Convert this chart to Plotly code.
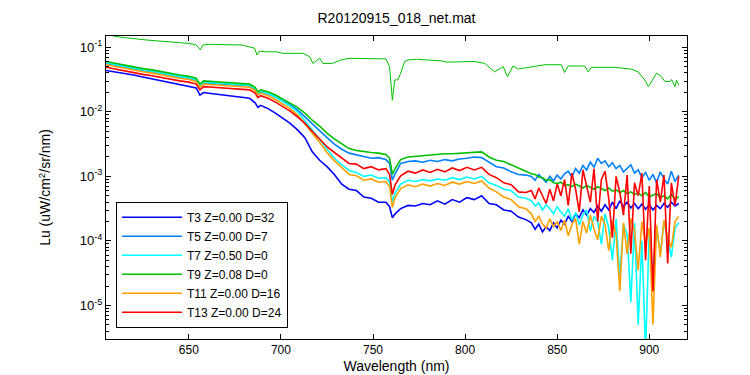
import numpy as np
import plotly.graph_objects as go

# Wavelength grid (nm) shared by the six station spectra
wavelength = [605, 610, 615, 620, 625, 630, 635, 640, 645, 650, 654, 656, 658, 663, 668, 673, 678, 683,
              686, 687.5, 689, 693, 697, 701, 705, 709, 713, 717, 721, 725, 729,
              733, 737, 741, 745, 749, 753, 757, 759, 760.5, 762, 765, 769, 773, 777, 781, 785, 789, 793,
              797, 801, 805, 809, 813, 817, 821, 825, 829, 833,
              836, 838, 840, 842, 844, 846, 848, 850, 852, 854, 856, 858, 860, 862, 864, 866, 868, 870,
              872, 874, 876, 878, 880, 882, 884, 886, 888, 890, 892, 894, 896, 898, 900, 902, 904, 906,
              908, 910, 912, 914, 916]

# log10 of Lu (uW/cm^2/sr/nm)
t3_log = [-1.36, -1.38, -1.41, -1.43, -1.46, -1.49, -1.52, -1.55, -1.58, -1.60,
          -1.63, -1.74, -1.70, -1.72, -1.74, -1.75, -1.77, -1.79, -1.86, -1.93,
          -1.90, -1.95, -2.02, -2.10, -2.18, -2.28, -2.40, -2.62, -2.75, -2.85,
          -2.97,
          -3.12, -3.20, -3.22, -3.32, -3.34, -3.40, -3.40, -3.47, -3.64, -3.58,
          -3.50, -3.45, -3.46, -3.42, -3.44, -3.38, -3.43, -3.36, -3.40, -3.33,
          -3.36, -3.30, -3.42, -3.44, -3.52, -3.54, -3.63, -3.67,
          -3.72, -3.82, -3.74, -3.86, -3.78, -3.84, -3.72, -3.80, -3.68, -3.74,
          -3.62, -3.70, -3.58, -3.64, -3.52, -3.60, -3.50, -3.56, -3.46, -3.54,
          -3.44, -3.52, -3.40, -3.50, -3.38, -3.47, -3.40, -3.49, -3.42, -3.50,
          -3.43, -3.51, -3.44, -3.52, -3.45, -3.50, -3.42, -3.48, -3.40, -3.46,
          -3.42]

t5_log = [-1.25, -1.28, -1.31, -1.33, -1.36, -1.38, -1.41, -1.43, -1.46, -1.48,
          -1.51, -1.60, -1.55, -1.56, -1.57, -1.58, -1.59, -1.60, -1.65, -1.72,
          -1.69, -1.72, -1.77, -1.83, -1.89, -1.97, -2.08, -2.19, -2.29, -2.40,
          -2.50,
          -2.58, -2.64, -2.67, -2.70, -2.72, -2.71, -2.74, -2.80, -3.06, -2.96,
          -2.80, -2.77, -2.76, -2.78, -2.75, -2.77, -2.74, -2.76, -2.73, -2.72,
          -2.70, -2.71, -2.78, -2.85, -2.87, -2.93, -2.97, -2.98,
          -3.00, -3.06, -2.97, -3.03, -3.09, -3.00, -3.07, -2.98, -3.04, -2.96,
          -2.92, -3.01, -2.88, -2.95, -2.83, -2.90, -2.78, -2.86, -2.72, -2.80,
          -2.76, -2.85, -2.79, -2.88, -2.83, -2.93, -2.87, -2.82, -2.95, -2.90,
          -3.02, -2.94, -3.06, -2.97, -3.10, -2.93, -3.04, -3.12, -2.92, -3.08,
          -2.98]

t7_log = [-1.24, -1.27, -1.30, -1.32, -1.35, -1.37, -1.40, -1.42, -1.45, -1.47,
          -1.50, -1.59, -1.54, -1.55, -1.56, -1.57, -1.58, -1.59, -1.64, -1.71,
          -1.68, -1.71, -1.77, -1.84, -1.91, -2.00, -2.14, -2.28, -2.42, -2.58,
          -2.72,
          -2.82, -2.91, -2.94, -3.00, -2.98, -3.03, -3.02, -3.09, -3.40, -3.26,
          -3.12, -3.06, -3.08, -3.05, -3.07, -3.04, -3.06, -3.02, -3.05, -3.01,
          -3.04, -3.00, -3.10, -3.14, -3.20, -3.22, -3.32, -3.34,
          -3.38, -3.46, -3.41, -3.52, -3.44, -3.50, -3.58, -3.47, -3.55, -3.62,
          -3.50, -3.68, -3.56, -3.75, -3.60, -3.52, -3.85, -3.62, -3.70, -4.05,
          -3.58, -3.80, -4.30, -3.66, -4.55, -3.75, -3.90, -4.95, -3.72, -5.30,
          -4.00, -5.70, -3.85, -4.50, -3.78, -4.20, -3.70, -3.95, -4.25, -3.80,
          -3.72]

t9_log = [-1.22, -1.25, -1.28, -1.30, -1.33, -1.35, -1.38, -1.40, -1.43, -1.45,
          -1.48, -1.57, -1.52, -1.53, -1.54, -1.55, -1.56, -1.57, -1.62, -1.69,
          -1.66, -1.69, -1.74, -1.80, -1.86, -1.93, -2.02, -2.13, -2.22, -2.33,
          -2.42,
          -2.50, -2.57, -2.60, -2.62, -2.63, -2.64, -2.66, -2.72, -2.97, -2.88,
          -2.74, -2.70, -2.69, -2.67, -2.67, -2.66, -2.65, -2.65, -2.64, -2.63,
          -2.62, -2.62, -2.70, -2.75, -2.77, -2.82, -2.88, -2.92,
          -2.96, -2.97, -3.01, -3.02, -3.06, -3.05, -3.10, -3.11, -3.09, -3.14,
          -3.13, -3.16, -3.12, -3.15, -3.18, -3.14, -3.17, -3.20, -3.16, -3.19,
          -3.22, -3.18, -3.23, -3.21, -3.25, -3.22, -3.27, -3.24, -3.28, -3.26,
          -3.30, -3.25, -3.32, -3.29, -3.27, -3.33, -3.30, -3.35, -3.28, -3.36,
          -3.31]

t11_log = [-1.27, -1.30, -1.33, -1.35, -1.38, -1.40, -1.43, -1.45, -1.48, -1.50,
           -1.53, -1.62, -1.57, -1.58, -1.59, -1.60, -1.61, -1.62, -1.67, -1.74,
           -1.71, -1.75, -1.81, -1.88, -1.95, -2.05, -2.18, -2.33, -2.47, -2.63,
           -2.76,
           -2.86, -2.97, -2.99, -3.06, -3.04, -3.09, -3.08, -3.16, -3.48, -3.33,
           -3.19, -3.13, -3.16, -3.12, -3.15, -3.11, -3.14, -3.09, -3.12, -3.08,
           -3.11, -3.07, -3.18, -3.24, -3.32, -3.36, -3.47, -3.50,
           -3.58, -3.70, -3.62, -3.74, -3.80, -3.66, -3.78, -3.70, -3.84, -3.68,
           -3.92, -3.75, -3.65, -4.05, -3.70, -3.88, -3.60, -3.82, -3.98, -3.62,
           -3.75, -4.15, -3.68, -3.90, -4.78, -3.72, -4.20, -3.65, -3.85, -4.45,
           -3.70, -4.05, -3.80, -5.30, -3.75, -4.25, -3.68, -3.95, -4.10, -3.70,
           -3.62]

t13_log = [-1.31, -1.34, -1.37, -1.39, -1.42, -1.44, -1.47, -1.49, -1.52, -1.54,
           -1.57, -1.66, -1.61, -1.62, -1.63, -1.64, -1.65, -1.66, -1.71, -1.78,
           -1.75, -1.79, -1.85, -1.92, -1.99, -2.08, -2.18, -2.30, -2.42, -2.54,
           -2.63,
           -2.72, -2.80, -2.81, -2.88, -2.85, -2.90, -2.88, -2.97, -3.28, -3.13,
           -2.99, -2.92, -2.95, -2.90, -2.94, -2.89, -2.93, -2.87, -2.91, -2.86,
           -2.90, -2.86, -2.97, -3.02, -3.10, -3.13, -3.24, -3.25,
           -3.22, -3.35, -3.18, -3.30, -3.42, -3.20, -3.38, -3.12, -3.30, -3.05,
           -3.45, -2.95, -3.20, -3.55, -2.90, -3.15, -3.40, -2.88, -3.70, -3.05,
           -2.92, -3.35, -3.95, -3.00, -3.25, -3.60, -2.98, -4.20, -3.10, -3.30,
           -2.95, -4.30, -3.15, -4.78, -3.05, -3.40, -2.98, -4.35, -3.10, -3.45,
           -3.00]

# Upper reference spectrum (no legend entry)
top_wavelength = [605, 612, 627, 645, 650, 654, 656.2, 657.6, 661, 679, 685.7, 687, 688.4, 692, 697.5,
                  701, 712, 715.6, 717.4, 721, 722.8, 728, 732, 737, 757, 759, 760.5, 761.8, 763.6,
                  765, 767.2, 769, 773.5, 787, 790, 805, 810.7, 816, 820.7, 823, 826, 829, 836,
                  843.3, 852.3, 854, 856, 865, 866.8, 868.6, 881.4, 890.4, 894, 897.7, 899.5, 901.3,
                  904, 906.7, 908.5, 911.3, 912.1, 914, 914.8, 916]
top_log = [-0.80, -0.84, -0.887, -0.93, -0.94, -0.965, -1.04, -0.965, -0.954, -0.965, -1.015, -1.12,
           -1.06, -1.07, -1.07, -1.093, -1.093, -1.146, -1.25, -1.17, -1.25, -1.25, -1.20, -1.17,
           -1.18, -1.30, -1.82, -1.51, -1.50, -1.40, -1.22, -1.197, -1.186, -1.21, -1.23, -1.22,
           -1.25, -1.38, -1.30, -1.455, -1.29, -1.336, -1.30, -1.27, -1.27, -1.39, -1.29, -1.29,
           -1.38, -1.31, -1.31, -1.34, -1.38, -1.51, -1.61, -1.53, -1.40, -1.455, -1.53, -1.53,
           -1.50, -1.61, -1.51, -1.585]

names = ["T3 Z=0.00 D=32", "T5 Z=0.00 D=7", "T7 Z=0.50 D=0",
         "T9 Z=0.08 D=0", "T11 Z=0.00 D=16", "T13 Z=0.00 D=24"]
colors = ["#0000FF", "#0080FF", "#00FFFF", "#00C000", "#FFA000", "#FF0000"]
series = [t3_log, t5_log, t7_log, t9_log, t11_log, t13_log]

for s in series:
    assert len(s) == len(wavelength), len(s)
assert len(top_log) == len(top_wavelength), (len(top_log), len(top_wavelength))

FONT = "Liberation Sans, Arial, sans-serif"

fig = go.Figure()
for name, col, s in zip(names, colors, series):
    fig.add_trace(go.Scatter(x=wavelength, y=np.power(10.0, s), mode="lines", name=name,
                             line=dict(color=col, width=1.6)))
fig.add_trace(go.Scatter(x=top_wavelength, y=np.power(10.0, top_log), mode="lines",
                         showlegend=False, line=dict(color="#00C000", width=1)))

decades = [-5, -4, -3, -2, -1]
minor_vals = [k * 10.0 ** d for d in [-6, -5, -4, -3, -2, -1] for k in range(2, 10)]

fig.update_layout(
    width=750, height=375,
    margin=dict(l=98, r=71, t=28, b=44),
    paper_bgcolor="white", plot_bgcolor="white",
    font=dict(family=FONT, size=12, color="black"),
    title=dict(text="R20120915_018_net.mat", x=0.518, xanchor="center", y=0.985, yanchor="top",
               font=dict(size=14)),
    xaxis=dict(range=[605, 920.5], tickmode="array", tickvals=[650, 700, 750, 800, 850, 900],
               ticks="inside", ticklen=5, tickcolor="black", showline=True, linecolor="black",
               linewidth=1, mirror="ticks", showgrid=False, zeroline=False,
               title=dict(text="Wavelength (nm)", font=dict(size=14), standoff=4)),
    yaxis=dict(type="log", range=[-5.52, -0.825], tickmode="array",
               tickvals=[10.0 ** d for d in decades],
               ticktext=["10<sup>%d</sup>" % d for d in decades],
               ticks="inside", ticklen=5, tickcolor="black", showline=True, linecolor="black",
               linewidth=1, mirror="ticks", showgrid=False, zeroline=False,
               tickfont=dict(size=13),
               minor=dict(tickmode="array", tickvals=minor_vals, ticks="inside", ticklen=3,
                          tickcolor="black", showgrid=False),
               title=dict(text="Lu (uW/cm<sup>2</sup>/sr/nm)", font=dict(size=14), standoff=25)),
    legend=dict(x=0.0172, y=0.453, xanchor="left", yanchor="top", bgcolor="white",
                bordercolor="black", borderwidth=1, font=dict(size=12), itemwidth=60,
                tracegroupgap=0),
    showlegend=True,
)

fig.write_html("out.html")
